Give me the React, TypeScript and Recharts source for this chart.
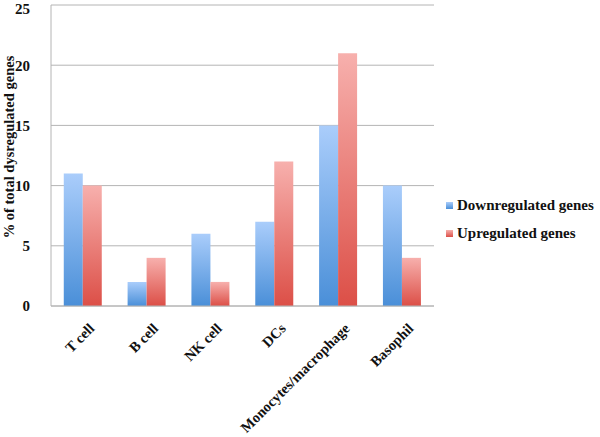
import { Bar, BarChart, CartesianGrid, Legend, XAxis, YAxis } from "recharts";

const cellTypes = ["T cell", "B cell", "NK cell", "DCs", "Monocytes/macrophage", "Basophil"];
const downregulated = [11, 2, 6, 7, 15, 10];
const upregulated = [10, 4, 2, 12, 21, 4];
const yTicks = [0, 5, 10, 15, 20, 25];
const edgeTicks = [0, 1, 2, 3, 4, 5, 6];

const FONT = '"Liberation Serif", "DejaVu Serif", serif';
const GRID = "#b4b4b4";

const data = cellTypes.map((name, i) => ({
  name,
  down: downregulated[i],
  up: upregulated[i],
}));

function CategoryTick({ x, y, payload }: { x?: number; y?: number; payload?: { value: string } }) {
  const tx = (x ?? 0) + 5;
  const ty = (y ?? 0) + 8;
  return (
    <text
      x={tx}
      y={ty}
      transform={`rotate(-45, ${tx}, ${ty})`}
      textAnchor="end"
      dominantBaseline="hanging"
      fontFamily={FONT}
      fontWeight="bold"
      fontSize={14.5}
      fill="#111"
    >
      {payload?.value}
    </text>
  );
}

function YTitle() {
  const cx = 9;
  const cy = 147;
  return (
    <text
      x={cx}
      y={cy}
      transform={`rotate(-90, ${cx}, ${cy})`}
      textAnchor="middle"
      dominantBaseline="central"
      fontFamily={FONT}
      fontWeight="bold"
      fontSize={14.5}
      fill="#111"
    >
      % of total dysregulated genes
    </text>
  );
}

function SideLegend() {
  const rows = [
    { label: "Downregulated genes", grad: "linear-gradient(#aacdfb, #4a8fd8)" },
    { label: "Upregulated genes", grad: "linear-gradient(#f7b0ad, #dc4f47)" },
  ];
  return (
    <div style={{ fontFamily: FONT, fontWeight: "bold", fontSize: 15, color: "#111", whiteSpace: "nowrap" }}>
      {rows.map((r) => (
        <div key={r.label} style={{ display: "flex", alignItems: "center", height: 28 }}>
          <span style={{ width: 7, height: 7, background: r.grad, marginRight: 4, display: "inline-block" }} />
          {r.label}
        </div>
      ))}
    </div>
  );
}

export default function App() {
  return (
    <div style={{ position: "absolute", left: 0, top: 0, width: 600, height: 437, background: "#fff", overflow: "hidden" }}>
      <BarChart
        width={600}
        height={437}
        data={data}
        margin={{ top: 5, right: 166, bottom: 0, left: 0 }}
        barCategoryGap="20%"
        barGap={0}
      >
        <defs>
          <linearGradient id="gDown" x1="0" y1="0" x2="0" y2="1">
            <stop offset="0%" stopColor="#aacdfb" />
            <stop offset="100%" stopColor="#4a8fd8" />
          </linearGradient>
          <linearGradient id="gUp" x1="0" y1="0" x2="0" y2="1">
            <stop offset="0%" stopColor="#f7b0ad" />
            <stop offset="100%" stopColor="#dc4f47" />
          </linearGradient>
        </defs>
        <CartesianGrid stroke={GRID} vertical={false} />
        <XAxis
          xAxisId="edge"
          type="number"
          domain={[0, 6]}
          ticks={edgeTicks}
          height={0}
          tick={() => <g />}
          axisLine={false}
          tickLine={{ stroke: GRID }}
          tickSize={5}
        />
        <XAxis
          dataKey="name"
          interval={0}
          height={131}
          tick={<CategoryTick />}
          tickLine={false}
          axisLine={{ stroke: GRID }}
        />
        <YAxis
          width={51}
          domain={[0, 25]}
          ticks={yTicks}
          tickLine={false}
          axisLine={{ stroke: GRID }}
          tickMargin={15}
          tick={{ fontFamily: FONT, fontWeight: "bold", fontSize: 15, fill: "#111" }}
          label={<YTitle />}
        />
        <Legend
          layout="vertical"
          align="center"
          verticalAlign="middle"
          content={<SideLegend />}
          wrapperStyle={{ position: "absolute", left: 446, top: 191, width: 160 }}
        />
        <Bar dataKey="down" name="Downregulated genes" fill="url(#gDown)" isAnimationActive={false} />
        <Bar dataKey="up" name="Upregulated genes" fill="url(#gUp)" isAnimationActive={false} />
      </BarChart>
    </div>
  );
}
